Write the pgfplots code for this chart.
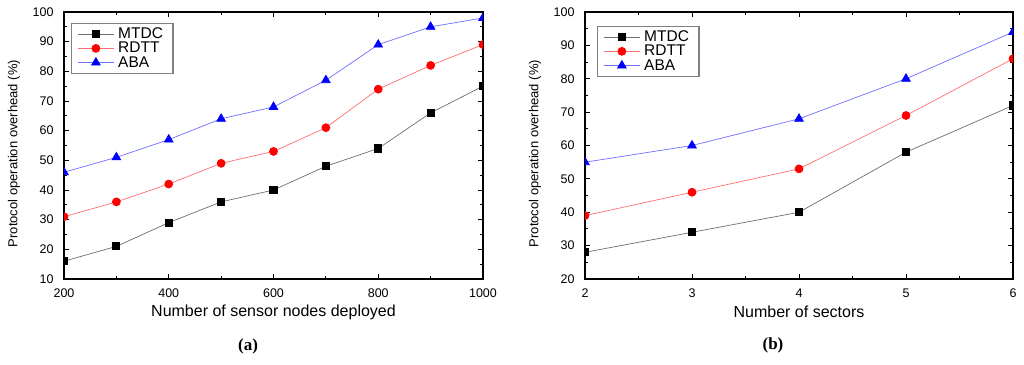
\documentclass[border=0pt]{standalone}
\usepackage{pgfplots}
\pgfplotsset{compat=1.18}
\usepackage{fontspec}
\setmainfont{Liberation Sans}
\newfontfamily\seriffont{Liberation Serif}
\definecolor{mtdcline}{RGB}{110,110,110}
\definecolor{rdttline}{RGB}{255,110,110}
\definecolor{abaline}{RGB}{110,110,255}
\pgfplotsset{
  common/.style={
    scale only axis,
    axis line style={line width=1.2pt},
    tick align=inside,
    tick style={line width=0.9pt, black},
    major tick length=5pt,
    minor tick length=3pt,
    tick label style={font=\fontsize{12.5}{13}\selectfont},
    xticklabel style={yshift=-6pt},
    yticklabel style={xshift=-7pt},
    /pgf/number format/assume math mode=true,
    ylabel={Protocol operation overhead (\%)},
    ylabel style={font=\fontsize{13}{14}\selectfont, at={(axis description cs:0,0.5)}, anchor=center, rotate=0, yshift=50pt, xshift=-8pt},
    xlabel style={font=\fontsize{16}{17}\selectfont, at={(axis description cs:0.5,0)}, anchor=center, yshift=-33pt},
    legend style={anchor=north west, draw=gray, line width=1.1pt,
      font=\fontsize{15.5}{16}\selectfont, inner xsep=6pt, inner ysep=2.5pt, row sep=-2pt,
      nodes={inner xsep=4pt}},
    legend cell align=left,
    legend image code/.code={\draw[mark repeat=2,mark phase=2,#1] plot coordinates {(0pt,0pt) (18pt,0pt) (36pt,0pt)};},
    clip marker paths=true,
    every axis plot/.append style={line width=0.7pt},
  },
  mtdc/.style={color=mtdcline, mark=square*, mark options={fill=black, draw=black, line width=0pt}, mark size=3.6pt},
  rdtt/.style={color=rdttline, mark=*, mark options={fill=red, draw=red}, mark size=4pt},
  aba/.style={color=abaline, mark=triangle*, mark options={fill=blue, draw=blue}, mark size=5pt},
}
\begin{document}
\begin{tikzpicture}
\useasboundingbox (0pt,0pt) rectangle (1024pt,-364pt);
\begin{axis}[common,
  at={(64pt,-279pt)}, anchor=south west,
  width=419pt, height=267pt,
  xmin=200, xmax=1000, ymin=10, ymax=100,
  xtick={200,400,...,1000},
  minor xtick={300,500,...,900},
  ytick={10,20,...,100},
  minor ytick={15,25,...,95},
  xlabel={Number of sensor nodes deployed},
  xticklabel style={/pgf/number format/1000 sep={}},
  legend style={at={(0.0167,0.959)}},
]
\addplot[mtdc] coordinates {(200,16)(300,21)(400,29)(500,36)(600,40)(700,48)(800,54)(900,66)(1000,75)};
\addplot[rdtt] coordinates {(200,31)(300,36)(400,42)(500,49)(600,53)(700,61)(800,74)(900,82)(1000,89)};
\addplot[aba] coordinates {(200,46)(300,51)(400,57)(500,64)(600,68)(700,77)(800,89)(900,95)(1000,98)};
\legend{MTDC,RDTT,ABA}
\end{axis}
\begin{axis}[common,
  at={(585pt,-279pt)}, anchor=south west,
  width=428pt, height=267pt,
  xmin=2, xmax=6, ymin=20, ymax=100,
  xtick={2,3,4,5,6},
  minor xtick={2.5,3.5,4.5,5.5},
  ytick={20,30,...,100},
  minor ytick={25,35,...,95},
  xlabel={Number of sectors},
  legend style={at={(0.028,0.948)}},
]
\addplot[mtdc] coordinates {(2,28)(3,34)(4,40)(5,58)(6,72)};
\addplot[rdtt] coordinates {(2,39)(3,46)(4,53)(5,69)(6,86)};
\addplot[aba] coordinates {(2,55)(3,60)(4,68)(5,80)(6,94)};
\legend{MTDC,RDTT,ABA}
\end{axis}
\node[font=\seriffont\bfseries\fontsize{17}{18}\selectfont] at (248pt,-346pt) {(a)};
\node[font=\seriffont\bfseries\fontsize{17}{18}\selectfont] at (773pt,-345pt) {(b)};
\end{tikzpicture}
\end{document}
